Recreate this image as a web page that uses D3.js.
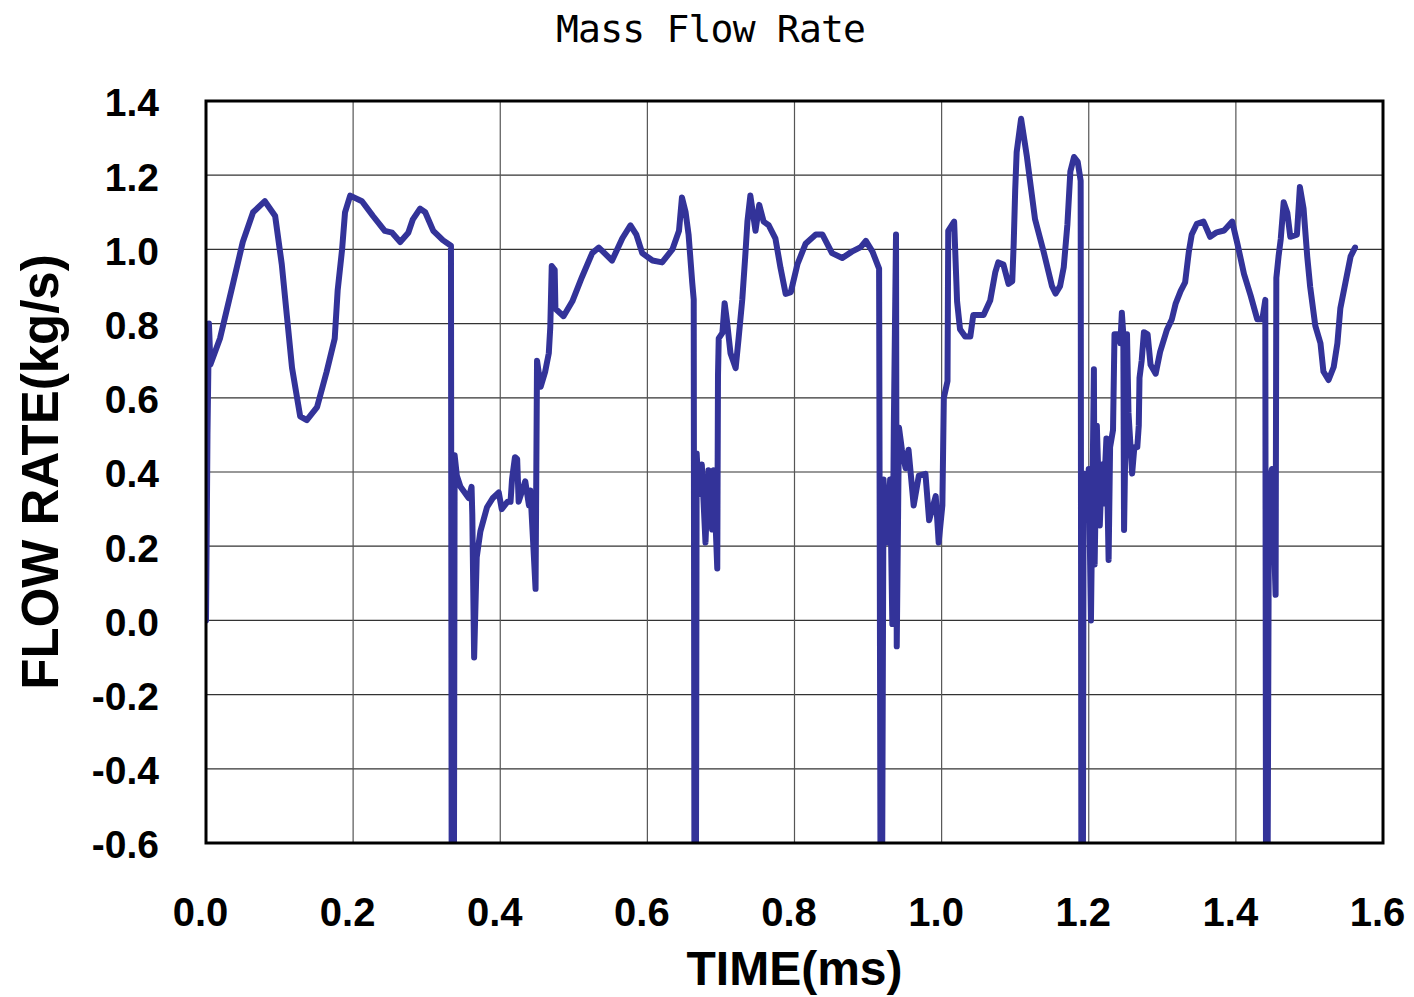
<!DOCTYPE html>
<html>
<head>
<meta charset="utf-8">
<script src="https://cdn.jsdelivr.net/npm/d3@7"></script>
<style>
  body { margin: 0; background: #fff; }
  svg { display: block; }
</style>
</head>
<body>
<div id="chart"></div>
<script>
// time (ms) and mass flow (kg/s)
var time = [
  0.000, 0.002, 0.004, 0.006, 0.019, 0.037, 0.050, 0.064, 0.080, 0.094,
  0.103, 0.110, 0.117, 0.128, 0.137, 0.151, 0.164, 0.175, 0.179, 0.185,
  0.189, 0.196, 0.212, 0.227, 0.243, 0.253, 0.264, 0.275, 0.281, 0.291,
  0.298, 0.309, 0.322, 0.333, 0.334, 0.337, 0.338, 0.341, 0.346, 0.357,
  0.361, 0.362, 0.3645, 0.368, 0.373, 0.382, 0.390, 0.398, 0.402, 0.410,
  0.414, 0.416, 0.420, 0.423, 0.425, 0.434, 0.439, 0.441, 0.445, 0.448,
  0.450, 0.455, 0.461, 0.466, 0.468, 0.470, 0.474, 0.475, 0.486, 0.498,
  0.511, 0.525, 0.534, 0.552, 0.566, 0.577, 0.585, 0.593, 0.607, 0.620,
  0.634, 0.643, 0.647, 0.652, 0.656, 0.661, 0.663, 0.664, 0.666, 0.667,
  0.670, 0.674, 0.679, 0.683, 0.688, 0.690, 0.695, 0.696, 0.697, 0.702,
  0.705, 0.708, 0.713, 0.720, 0.724, 0.729, 0.733, 0.736, 0.740, 0.747,
  0.752, 0.758, 0.765, 0.774, 0.781, 0.788, 0.795, 0.804, 0.815, 0.829,
  0.838, 0.851, 0.865, 0.878, 0.890, 0.897, 0.906, 0.915, 0.917, 0.919,
  0.921, 0.926, 0.930, 0.933, 0.935, 0.938, 0.939, 0.942, 0.946, 0.951,
  0.955, 0.962, 0.969, 0.978, 0.983, 0.992, 0.996, 1.001, 1.003, 1.008,
  1.009, 1.017, 1.021, 1.025, 1.032, 1.039, 1.043, 1.057, 1.066, 1.073,
  1.077, 1.084, 1.091, 1.096, 1.098, 1.100, 1.102, 1.108, 1.111, 1.116,
  1.121, 1.127, 1.139, 1.150, 1.155, 1.161, 1.166, 1.171, 1.175, 1.180,
  1.185, 1.189, 1.190, 1.192, 1.193, 1.196, 1.200, 1.203, 1.207, 1.208,
  1.211, 1.215, 1.218, 1.220, 1.224, 1.227, 1.229, 1.233, 1.235, 1.241,
  1.243, 1.245, 1.247, 1.248, 1.252, 1.254, 1.259, 1.262, 1.266, 1.268,
  1.269, 1.272, 1.275, 1.280, 1.284, 1.291, 1.297, 1.306, 1.313, 1.318,
  1.325, 1.331, 1.336, 1.340, 1.347, 1.356, 1.365, 1.374, 1.384, 1.395,
  1.402, 1.411, 1.420, 1.429, 1.436, 1.440, 1.441, 1.443, 1.445, 1.449,
  1.454, 1.455, 1.458, 1.461, 1.465, 1.470, 1.474, 1.483, 1.487, 1.492,
  1.497, 1.501, 1.508, 1.515, 1.519, 1.526, 1.533, 1.538, 1.542, 1.549,
  1.556, 1.562
];
var flow = [
  0.00, 0.50, 0.80, 0.69, 0.76, 0.91, 1.02, 1.10, 1.13, 1.09,
  0.96, 0.82, 0.68, 0.55, 0.54, 0.575, 0.67, 0.76, 0.89, 1.00,
  1.10, 1.145, 1.13, 1.09, 1.05, 1.045, 1.02, 1.045, 1.08, 1.11,
  1.10, 1.05, 1.025, 1.01, -0.75, -0.75, 0.445, 0.39, 0.36, 0.33,
  0.36, 0.285, -0.10, 0.17, 0.24, 0.305, 0.33, 0.345, 0.30, 0.32,
  0.32, 0.38, 0.44, 0.435, 0.32, 0.375, 0.31, 0.35, 0.20, 0.085,
  0.70, 0.63, 0.67, 0.72, 0.79, 0.955, 0.945, 0.84, 0.82, 0.86,
  0.925, 0.99, 1.005, 0.97, 1.03, 1.065, 1.04, 0.99, 0.97, 0.965,
  1.00, 1.05, 1.14, 1.10, 1.04, 0.91, 0.865, -0.75, -0.75, 0.45,
  0.34, 0.42, 0.21, 0.405, 0.245, 0.405, 0.14, 0.66, 0.76, 0.775,
  0.855, 0.81, 0.72, 0.68, 0.76, 0.865, 0.98, 1.075, 1.145, 1.05,
  1.12, 1.075, 1.065, 1.03, 0.95, 0.88, 0.885, 0.96, 1.015, 1.04,
  1.04, 0.99, 0.977, 0.994, 1.006, 1.023, 0.994, 0.948, -0.75, -0.75,
  0.38, 0.21, 0.38, -0.01, 0.52, 1.04, -0.07, 0.52, 0.46, 0.41,
  0.46, 0.31, 0.39, 0.395, 0.27, 0.335, 0.21, 0.31, 0.60, 0.645,
  1.05, 1.075, 0.86, 0.785, 0.765, 0.765, 0.823, 0.823, 0.862, 0.939,
  0.965, 0.959, 0.907, 0.914, 1.017, 1.159, 1.262, 1.352, 1.314, 1.249,
  1.172, 1.081, 0.991, 0.901, 0.881, 0.901, 0.952, 1.068, 1.21, 1.249,
  1.236, 1.185, -0.75, -0.75, 0.396, 0.30, 0.408, 0.0, 0.677, 0.151,
  0.525, 0.256, 0.42, 0.315, 0.49, 0.163, 0.467, 0.513, 0.771, 0.771,
  0.747, 0.829, 0.771, 0.244, 0.771, 0.56, 0.396, 0.467, 0.467, 0.525,
  0.654, 0.701, 0.777, 0.771, 0.689, 0.665, 0.724, 0.782, 0.812, 0.853,
  0.888, 0.911, 0.993, 1.04, 1.069, 1.075, 1.034, 1.046, 1.051, 1.075,
  1.016, 0.934, 0.876, 0.812, 0.812, 0.864, -0.75, -0.75, 0.361, 0.408,
  0.069, 0.923, 0.981, 1.028, 1.127, 1.098, 1.034, 1.04, 1.168, 1.11,
  0.981, 0.899, 0.794, 0.747, 0.671, 0.648, 0.683, 0.747, 0.841, 0.911,
  0.981, 1.005
];
var xTicks = [0.0, 0.2, 0.4, 0.6, 0.8, 1.0, 1.2, 1.4, 1.6];
var yTicks = [-0.6, -0.4, -0.2, 0.0, 0.2, 0.4, 0.6, 0.8, 1.0, 1.2, 1.4];

var W = 1414, H = 997;
var margin = {top: 101, right: 31, bottom: 154, left: 206};
var width = W - margin.left - margin.right,
    height = H - margin.top - margin.bottom;

var svg = d3.select("#chart").append("svg")
    .attr("width", W)
    .attr("height", H);

var g = svg.append("g")
    .attr("transform", "translate(" + margin.left + "," + margin.top + ")");

var x = d3.scaleLinear().domain([0, 1.6]).range([0, width]);
var y = d3.scaleLinear().domain([-0.6, 1.4]).range([height, 0]);

// grid
g.append("g")
    .selectAll("line.h")
    .data(yTicks)
    .enter().append("line")
    .attr("x1", 0).attr("x2", width)
    .attr("y1", function (d) { return y(d); })
    .attr("y2", function (d) { return y(d); })
    .attr("stroke", "#333").attr("stroke-width", 1.2);

g.append("g")
    .selectAll("line.v")
    .data(xTicks)
    .enter().append("line")
    .attr("y1", 0).attr("y2", height)
    .attr("x1", function (d) { return x(d); })
    .attr("x2", function (d) { return x(d); })
    .attr("stroke", "#555").attr("stroke-width", 1.2);

g.append("clipPath").attr("id", "plotclip")
    .append("rect").attr("width", width).attr("height", height);

var data = time.map(function (t, i) { return {t: t, v: flow[i]}; });

var line = d3.line()
    .x(function (d) { return x(d.t); })
    .y(function (d) { return y(d.v); });

g.append("path")
    .datum(data)
    .attr("clip-path", "url(#plotclip)")
    .attr("fill", "none")
    .attr("stroke", "#333399")
    .attr("stroke-width", 6)
    .attr("stroke-linejoin", "round")
    .attr("stroke-linecap", "round")
    .attr("d", line);

// frame
g.append("rect")
    .attr("width", width).attr("height", height)
    .attr("fill", "none").attr("stroke", "#000").attr("stroke-width", 3);

// plain hyphen for negatives, like the original
var fmt = function (d) { return d3.format(".1f")(d).replace("\u2212", "-"); };

var xAxis = g.append("g")
    .attr("transform", "translate(0," + height + ")")
    .call(d3.axisBottom(x).tickValues(xTicks).tickFormat(fmt).tickSize(0).tickPadding(55));
xAxis.select(".domain").remove();
xAxis.selectAll("text")
    .attr("dx", -6)
    .style("font-family", "'Liberation Sans', Arial, sans-serif")
    .style("font-weight", "bold")
    .style("font-size", "40px")
    .attr("fill", "#000");

var yAxis = g.append("g")
    .call(d3.axisLeft(y).tickValues(yTicks).tickFormat(fmt).tickSize(0).tickPadding(47));
yAxis.select(".domain").remove();
yAxis.selectAll("text")
    .attr("dy", "0.38em")
    .style("font-family", "'Liberation Sans', Arial, sans-serif")
    .style("font-weight", "bold")
    .style("font-size", "39px")
    .attr("fill", "#000");

// titles
svg.append("text")
    .attr("x", 711).attr("y", 42)
    .attr("text-anchor", "middle")
    .attr("textLength", 310)
    .style("font-family", "'DejaVu Sans Mono', monospace")
    .style("font-size", "38px")
    .text("Mass Flow Rate");

svg.append("text")
    .attr("x", margin.left + width / 2).attr("y", 985)
    .attr("text-anchor", "middle")
    .style("font-family", "'Liberation Sans', Arial, sans-serif")
    .style("font-weight", "bold")
    .style("font-size", "48px")
    .text("TIME(ms)");

svg.append("text")
    .attr("transform", "translate(58," + (margin.top + height / 2) + ") rotate(-90)")
    .attr("text-anchor", "middle")
    .style("font-family", "'Liberation Sans', Arial, sans-serif")
    .style("font-weight", "bold")
    .style("font-size", "51px")
    .text("FLOW RATE(kg/s)");
</script>
</body>
</html>
